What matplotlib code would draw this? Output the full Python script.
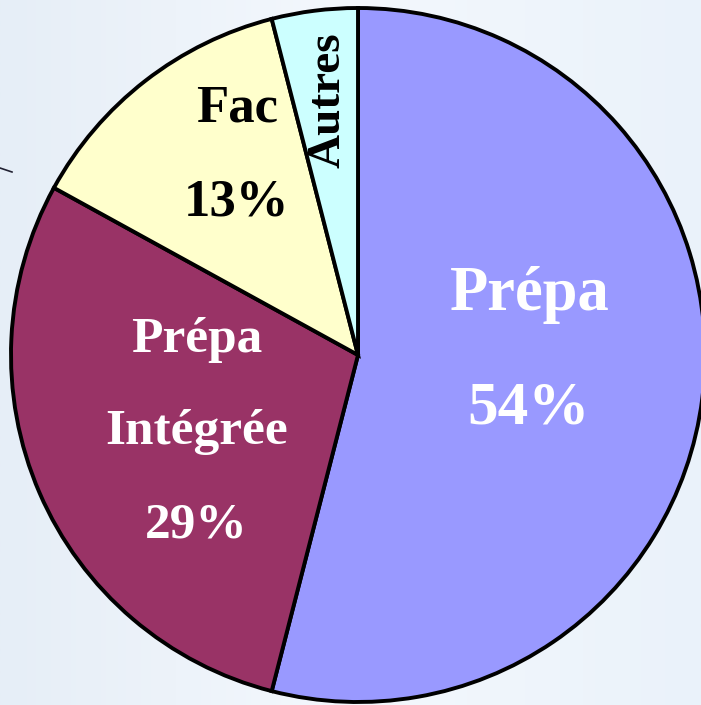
import matplotlib
matplotlib.use('Agg')
import matplotlib.pyplot as plt
import numpy as np

# slice data, clockwise from 12 o'clock
labels = ['Prépa', 'Prépa Intégrée', 'Fac', 'Autres']
values = [54, 29, 13, 4]
colors = ['#9999FF', '#993366', '#FFFFCC', '#CCFFFF']

W, H = 701, 705


def main():
    plt.rcParams['font.family'] = ['Liberation Serif', 'DejaVu Serif']
    fig = plt.figure(figsize=(W / 100, H / 100), dpi=100)
    ax = fig.add_axes([0, 0, 1, 1])
    ax.set_xlim(0, W)
    ax.set_ylim(0, H)
    ax.set_aspect('equal')
    ax.axis('off')

    # pale bluish backdrop
    grad = np.linspace(0, 1, 256).reshape(1, -1)
    bg = matplotlib.colors.LinearSegmentedColormap.from_list('bg', ['#E6EEF7', '#F4F8FD', '#EAF2FA'])
    ax.imshow(grad, cmap=bg, extent=[0, W, 0, H], aspect='auto', zorder=0)

    # bit of an arrow poking in from the left
    ax.plot([0, 12], [H - 168, H - 172], color='#222233', lw=1.2, zorder=1)

    wedges, _ = ax.pie(values, colors=colors, startangle=90, counterclock=False,
                       center=(358, 350), radius=347,
                       wedgeprops=dict(edgecolor='black', linewidth=2.8))
    for w in wedges:
        w.set_zorder(2)
    ax.set_xlim(0, W)
    ax.set_ylim(0, H)

    bold = dict(fontweight='bold', ha='center', va='center', zorder=3)
    ax.text(530, H - 295, 'Prépa', color='white', fontsize=45, **bold)
    ax.text(528, H - 408, f'{values[0]}%', color='white', fontsize=44, **bold)

    ax.text(197, H - 340, 'Prépa', color='white', fontsize=37, **bold)
    ax.text(197, H - 432, 'Intégrée', color='white', fontsize=37, **bold)
    ax.text(196, H - 525, f'{values[1]}%', color='white', fontsize=37, **bold)

    ax.text(237, H - 108, 'Fac', color='black', fontsize=38, **bold)
    ax.text(236, H - 203, f'{values[2]}%', color='black', fontsize=38, **bold)

    ax.text(329, H - 100, 'Autres', color='black', fontsize=34, rotation=90, **bold)

    plt.savefig('out.png', dpi=100)
    plt.close()


if __name__ == '__main__':
    main()
